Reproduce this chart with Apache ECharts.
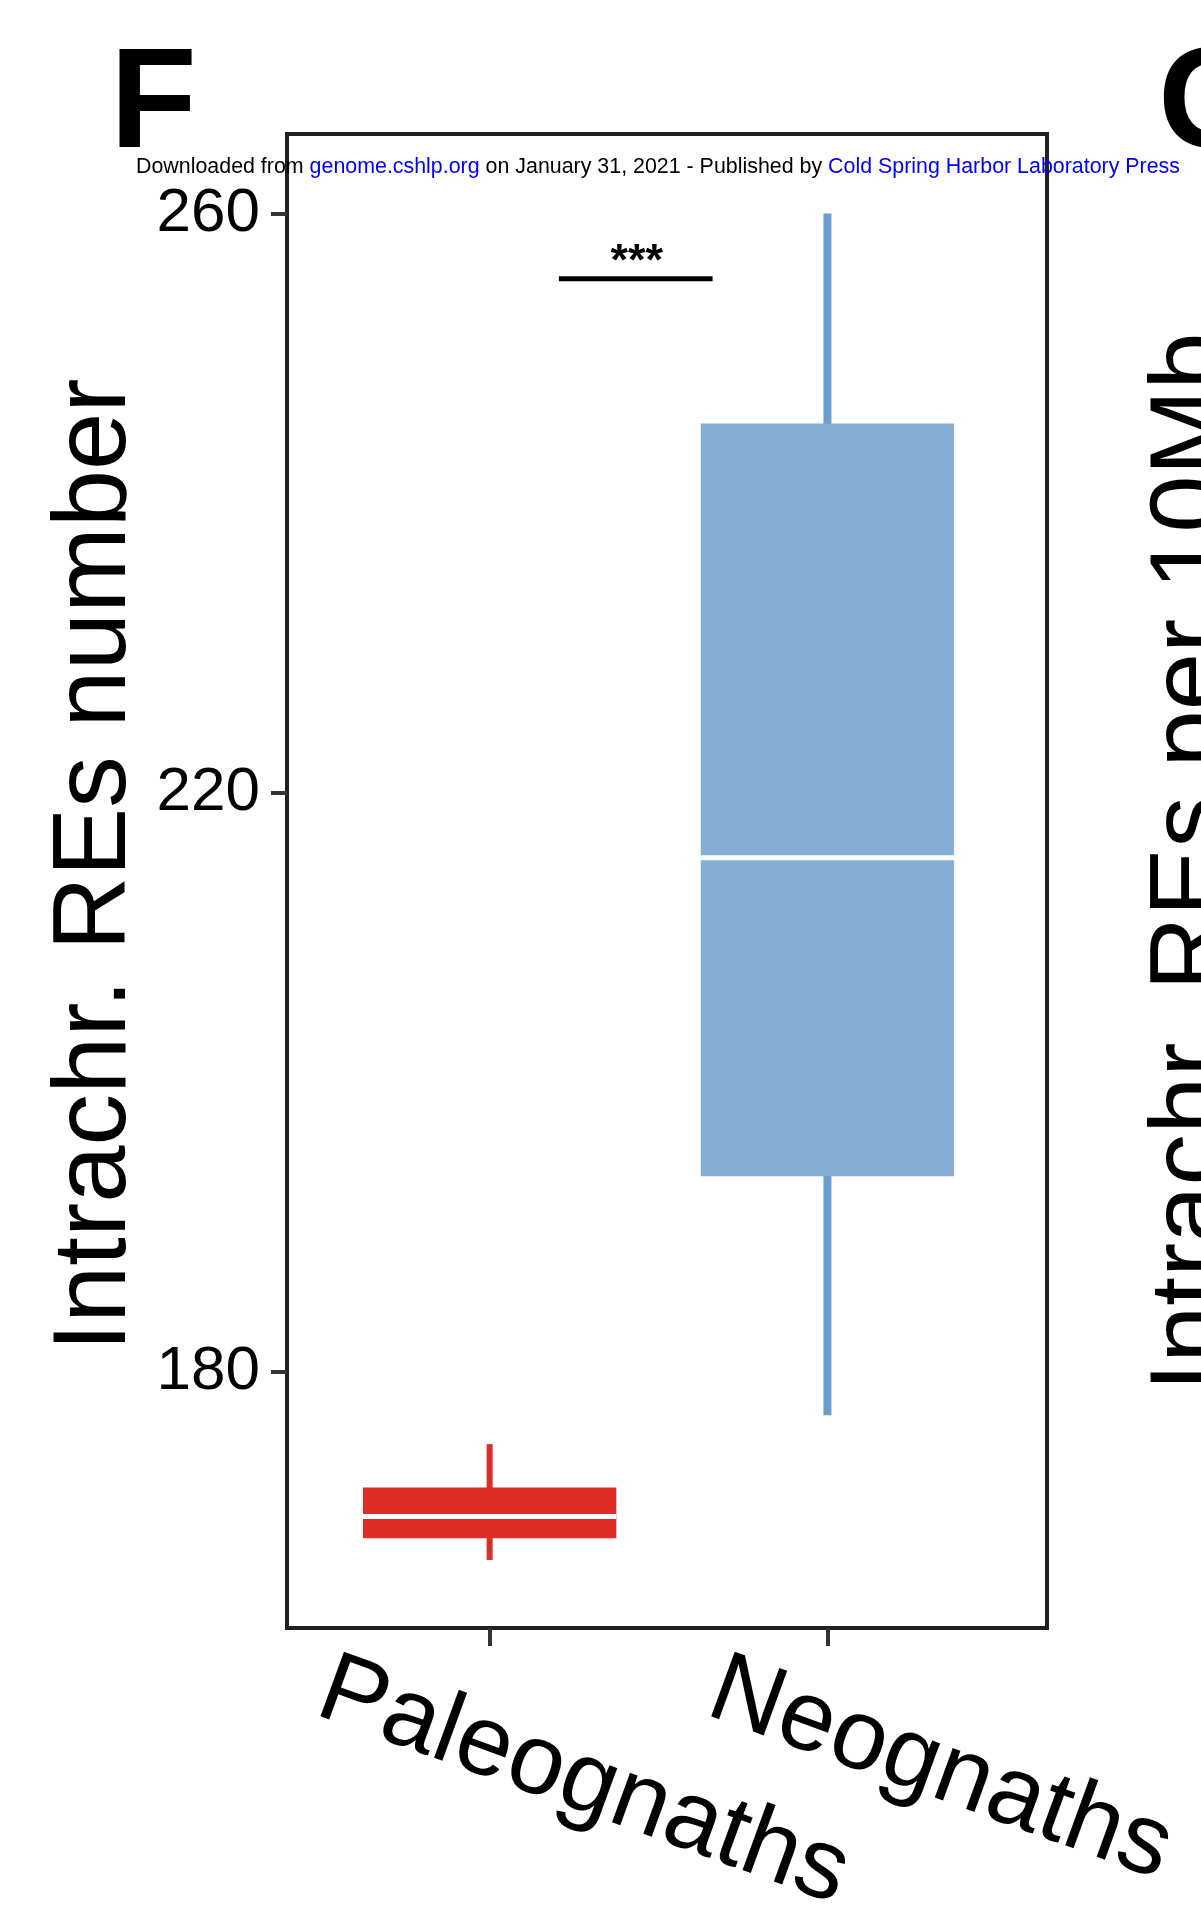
<!DOCTYPE html>
<html>
<head>
<meta charset="utf-8">
<script src="https://cdn.jsdelivr.net/npm/echarts@6/dist/echarts.min.js"></script>
<style>
  html, body { margin: 0; padding: 0; background: #ffffff; }
  #chart { width: 1201px; height: 1905px; }
</style>
</head>
<body>
<div id="chart"></div>
<script>
// Intrachromosomal rearrangement counts per group (box-and-whisker summary)
const groups      = ['Paleognaths', 'Neognaths'];
const whiskerLow  = [167.0, 177.0];
const quartile1   = [168.5, 193.5];
const medians     = [170.0, 215.5];
const quartile3   = [172.0, 245.5];
const whiskerHigh = [175.0, 260.0];
const yTickValues = [180, 220, 260];

// significance bracket between the groups
const signifLabel = '***';
const signifSpan  = [0.205, 0.66];
const signifLevel = 255.5;

const FONT = '"Liberation Sans", Arial, Helvetica, sans-serif';
const boxFill      = ['#DE2D26', '#84AED4'];
const whiskerColor = ['#DE2D26', '#6A9ECF'];
const whiskerWidth = [6, 8];
const BOX_WIDTH = 0.75;

const boxData = groups.map((g, i) => [i, whiskerLow[i], quartile1[i], medians[i], quartile3[i], whiskerHigh[i]]);

const chart = echarts.init(document.getElementById('chart'), null, { renderer: 'canvas' });

function renderBox(params, api) {
  const i = api.value(0);
  const lo = api.coord([i, api.value(1)]);
  const q1 = api.coord([i, api.value(2)]);
  const md = api.coord([i, api.value(3)]);
  const q3 = api.coord([i, api.value(4)]);
  const hi = api.coord([i, api.value(5)]);
  const half = api.size([BOX_WIDTH, 0])[0] / 2;
  return {
    type: 'group',
    children: [
      { type: 'line', shape: { x1: lo[0], y1: lo[1], x2: hi[0], y2: hi[1] },
        style: { stroke: whiskerColor[i], lineWidth: whiskerWidth[i], lineCap: 'butt' } },
      { type: 'rect', shape: { x: q3[0] - half, y: q3[1], width: half * 2, height: q1[1] - q3[1] },
        style: { fill: boxFill[i] } },
      { type: 'line', shape: { x1: md[0] - half, y1: md[1], x2: md[0] + half, y2: md[1] },
        style: { stroke: '#ffffff', lineWidth: 5 } }
    ]
  };
}

function renderSignif(params, api) {
  const a = api.coord([api.value(0), api.value(2)]);
  const b = api.coord([api.value(1), api.value(2)]);
  return {
    type: 'group',
    children: [
      { type: 'line', shape: { x1: a[0], y1: a[1], x2: b[0], y2: b[1] },
        style: { stroke: '#000000', lineWidth: 5 } },
      { type: 'text', x: (a[0] + b[0]) / 2 + 1, y: a[1] - 16,
        style: { text: signifLabel, fontSize: 45, fontWeight: 'bold', fontFamily: FONT,
                 fill: '#000000', align: 'center', verticalAlign: 'middle' } }
    ]
  };
}

const option = {
  animation: false,
  backgroundColor: '#ffffff',
  grid: {
    left: 287, right: 154, top: 134, bottom: 277,
    show: true, borderWidth: 4, borderColor: '#231F20', backgroundColor: 'transparent'
  },
  xAxis: {
    type: 'value', min: -0.6, max: 1.65,
    splitLine: { show: false },
    axisLine: { show: false, onZero: false },
    axisTick: { show: true, customValues: [0, 1], length: 18, lineStyle: { color: '#333333', width: 4 } },
    axisLabel: { show: false }
  },
  yAxis: {
    type: 'value', min: 162.3, max: 265.5,
    splitLine: { show: false },
    axisLine: { show: false, onZero: false },
    axisTick: { show: true, customValues: yTickValues, length: 16, lineStyle: { color: '#333333', width: 4 } },
    axisLabel: { show: true, customValues: yTickValues, fontSize: 62, color: '#000000', fontFamily: FONT,
                 margin: 27, padding: [7, 0, 0, 0] }
  },
  series: [
    { type: 'custom', name: 'boxes', renderItem: renderBox, data: boxData, clip: false, z: 2 },
    { type: 'custom', name: 'signif', renderItem: renderSignif,
      data: [[signifSpan[0], signifSpan[1], signifLevel]], clip: false, z: 3 }
  ]
};
chart.setOption(option);

// rotated category names under the x axis
const deg = Math.PI / 180;
const xLabelShift = [-177, -124];
const axisY = chart.convertToPixel({ gridIndex: 0 }, [0, 162.3])[1];
const xLabelEls = groups.map((g, i) => {
  const px = chart.convertToPixel({ gridIndex: 0 }, [i, 162.3])[0];
  return {
    type: 'text', x: px + xLabelShift[i], y: axisY + 86, rotation: -20 * deg,
    style: { text: g, fontSize: 100, fontFamily: FONT, fill: '#000000',
             align: 'left', verticalAlign: 'middle', y: -28 }
  };
});

chart.setOption({
  graphic: [
    // panel letters
    { type: 'text', x: 110, y: 108, style: { text: 'F', fontSize: 142, fontWeight: 'bold', fontFamily: FONT,
      fill: '#000000', align: 'left', verticalAlign: 'middle' } },
    { type: 'text', x: 1158, y: 108, style: { text: 'G', fontSize: 142, fontWeight: 'bold', fontFamily: FONT,
      fill: '#000000', align: 'left', verticalAlign: 'middle' } },
    // y axis title
    { type: 'text', x: 97, y: 865, rotation: 90 * deg,
      style: { text: 'Intrachr. REs number', fontSize: 103, fontFamily: FONT, fill: '#000000',
               align: 'center', verticalAlign: 'middle' } },
    // neighbouring panel's axis title
    { type: 'text', x: 1194, y: 862, rotation: 90 * deg,
      style: { text: 'Intrachr. REs per 10Mb', fontSize: 103, fontFamily: FONT, fill: '#000000',
               align: 'center', verticalAlign: 'middle' } },
    // download notice line
    { type: 'text', x: 136, y: 167, z: 100,
      style: {
        text: '{k|Downloaded from }{b|genome.cshlp.org}{k| on January 31, 2021 - Published by }{b|Cold Spring Harbor Laboratory Press}',
        rich: {
          k: { fill: '#000000', fontSize: 21.4, fontFamily: FONT },
          b: { fill: '#0000FF', fontSize: 21.4, fontFamily: FONT }
        },
        align: 'left', verticalAlign: 'middle'
      } }
  ].concat(xLabelEls)
});
</script>
</body>
</html>
